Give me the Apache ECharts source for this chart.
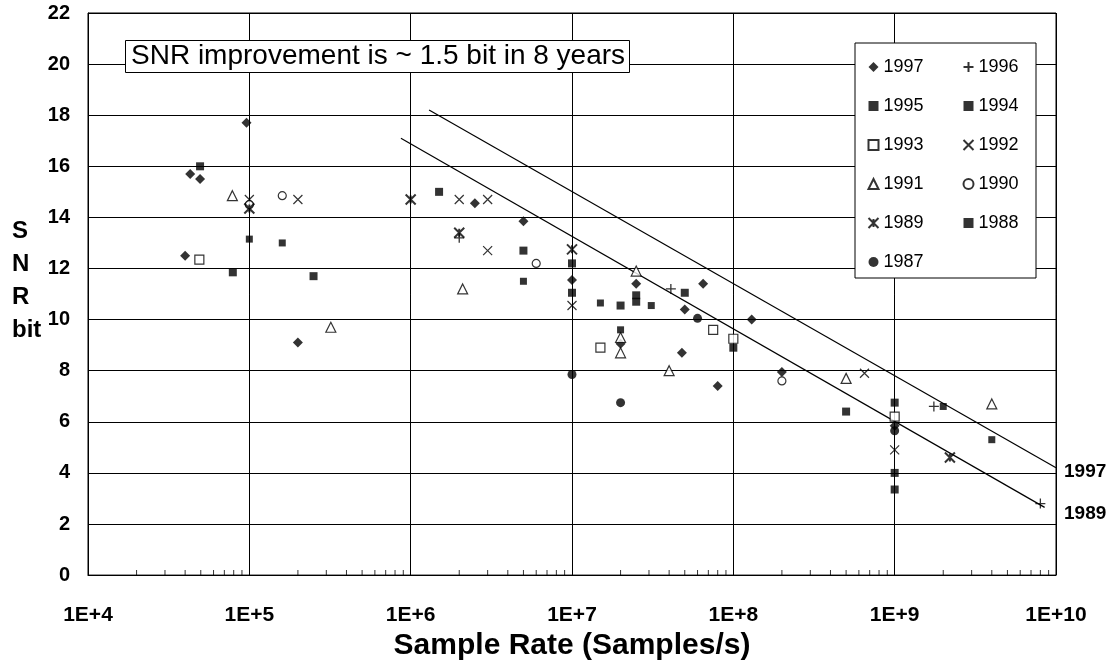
<!DOCTYPE html>
<html>
<head>
<meta charset="utf-8">
<script src="https://cdn.jsdelivr.net/npm/echarts@6/dist/echarts.min.js"></script>
<style>
html,body{margin:0;padding:0;background:#fff;}
#main{width:1111px;height:666px;}
</style>
</head>
<body>
<div id="main"></div>
<script>
// ---- data: [sample rate, SNR bits] ----
const s1997 = [[9.6e4,17.7],[4.3e4,15.7],[4.95e4,15.5],[4.0e4,12.5],[2.0e5,9.1],[2.5e6,14.55],[5e6,13.85],[1e7,11.55],[2.5e7,11.4],[2e7,9.05],[5e7,10.4],[6.5e7,11.4],[4.8e7,8.7],[8e7,7.4],[1.3e8,10.0],[2e8,7.95],[1e9,5.85]];
const s1996 = [[2e6,13.2],[4.1e7,11.2],[1.75e9,6.6],[8e9,2.8]];
const s1995 = [[4.95e4,16.0],[1.5e6,15.0],[5e6,12.7],[1e7,12.2],[2.5e7,10.95],[5e7,11.05],[1e8,8.9],[1e9,6.75]];
const s1994 = [[1e5,13.15],[1.6e5,13.0],[5e6,11.5],[1.5e7,10.65],[2e7,9.6],[3.1e7,10.55],[2e9,6.6],[4e9,5.3]];
const s1993 = [[4.9e4,12.35],[1.5e7,8.9],[7.5e7,9.6],[1e8,9.25],[1e9,6.2]];
const s1992 = [[1e5,14.7],[2e5,14.7],[2e6,14.7],[3e6,14.7],[3e6,12.7],[1e7,10.55],[6.5e8,7.9],[1e9,4.9]];
const s1991 = [[7.85e4,14.85],[3.2e5,9.7],[2.1e6,11.2],[2.5e7,11.9],[2e7,9.3],[2e7,8.7],[4e7,8.0],[5e8,7.7],[4e9,6.7]];
const s1990 = [[1e5,14.5],[1.6e5,14.85],[6e6,12.2],[2e8,7.6]];
const s1989 = [[1e5,14.35],[1e6,14.7],[2e6,13.4],[1e7,12.75],[2.2e9,4.6]];
const s1988 = [[7.9e4,11.85],[2.5e5,11.7],[1e7,11.05],[2e7,10.55],[2.5e7,10.7],[5e8,6.4],[1e9,4.0],[1e9,3.35]];
const s1987 = [[1e7,7.85],[2e7,6.75],[6e7,10.05],[1e9,5.65]];
const trend1997 = [[1.3e6,18.2],[1e10,4.2]];
const trend1989 = [[8.7e5,17.1],[8.5e9,2.65]];
const yTicks = {min:0, max:22, interval:2};
const xTicks = {min:1e4, max:1e10};
const xDecades = [1e4,1e5,1e6,1e7,1e8,1e9];
const minorMultipliers = [2,3,4,5,6,7,8,9];
const annotation = 'SNR improvement is ~ 1.5 bit in 8 years';
const xTitle = 'Sample Rate (Samples/s)';
const yTitle = 'S\nN\nR\nbit';
const trendLabels = [['1997',4.06],['1989',2.42]];

const FONT = '"Liberation Sans", Arial, sans-serif';
const filled = {color:'#000'};
const hollow = {color:'#fff', borderColor:'#000', borderWidth:1.2};
const stroke = w => ({color:'none', borderColor:'#000', borderWidth:w});

function sc(name, data, symbol, size, itemStyle){
  return {name, type:'scatter', data, symbol, symbolSize:size, itemStyle, z:5,
          emphasis:{disabled:true}};
}
// minor tick positions on the log axis (2..9 within each decade), drawn at y = 0
const minorTicks = [];
xDecades.forEach(d => minorMultipliers.forEach(m => minorTicks.push([d*m, yTicks.min])));

const series = [
  sc('1997', s1997, 'diamond', 10, filled),
  sc('1996', s1996, 'path://M0,5L10,5M5,0L5,10', 10, stroke(1.3)),
  sc('1995', s1995, 'rect', 8, filled),
  sc('1994', s1994, 'rect', 7, filled),
  sc('1993', s1993, 'rect', 9, hollow),
  sc('1992', s1992, 'path://M0,0L10,10M10,0L0,10', 9, stroke(1.2)),
  sc('1991', s1991, 'triangle', 10, hollow),
  sc('1990', s1990, 'circle', 8, hollow),
  sc('1989', s1989, 'path://M0,0L10,10M10,0L0,10M5,1L5,9', 10, stroke(2)),
  sc('1988', s1988, 'rect', 8, filled),
  sc('1987', s1987, 'circle', 9, filled),
  {name:'t1997', type:'line', data:trend1997, showSymbol:false, silent:true,
   lineStyle:{color:'#000', width:1.2}, z:3},
  {name:'t1989', type:'line', data:trend1989, showSymbol:false, silent:true,
   lineStyle:{color:'#000', width:1.2}, z:3},
  {name:'minorTicks', type:'scatter', data:minorTicks, symbol:'rect', symbolSize:[1,5],
   symbolOffset:[0,-2.5], silent:true, itemStyle:{color:'#000'}, z:4, clip:false}
];

const legendCommon = {
  orient:'vertical', padding:0, itemGap:21, itemWidth:10, itemHeight:10,
  textStyle:{fontFamily:FONT, fontSize:18, color:'#000', lineHeight:18},
  selectedMode:false, z:8
};

const chart = echarts.init(document.getElementById('main'));
chart.setOption({
  animation:false,
  backgroundColor:'#fff',
  title:{text:annotation, left:125, top:40, padding:[1,5,1,6],
    borderColor:'#000', borderWidth:1, backgroundColor:'#fff',
    textStyle:{fontFamily:FONT, fontSize:28, fontWeight:'normal', color:'#000', lineHeight:31}},
  grid:{left:88, right:55, top:13, bottom:89, show:true, borderColor:'#000', borderWidth:1},
  legend:[
    Object.assign({left:866, top:58, data:['1997','1995','1993','1991','1989','1987']}, legendCommon),
    Object.assign({left:961, top:58, data:['1996','1994','1992','1990','1988']}, legendCommon)
  ],
  xAxis:{type:'log', logBase:10, min:xTicks.min, max:xTicks.max,
    name:xTitle, nameLocation:'middle', nameGap:55,
    nameTextStyle:{fontFamily:FONT, fontSize:30, fontWeight:'bold', color:'#000'},
    axisLine:{lineStyle:{color:'#000', width:1}},
    axisTick:{show:false},
    splitLine:{show:true, lineStyle:{color:'#000', width:1}},
    axisLabel:{margin:30, fontFamily:FONT, fontSize:21, fontWeight:'bold', color:'#000',
      formatter:v => '1E+' + Math.round(Math.log10(v))}},
  yAxis:{type:'value', min:yTicks.min, max:yTicks.max, interval:yTicks.interval,
    axisLine:{show:true, lineStyle:{color:'#000', width:1}},
    axisTick:{show:false},
    splitLine:{show:true, lineStyle:{color:'#000', width:1}},
    axisLabel:{margin:18, padding:[10,0,0,0], fontFamily:FONT, fontSize:20, fontWeight:'bold', color:'#000'}},
  series
});

// legend frame & texts outside the plot
const graphics = [
  {type:'rect', shape:{x:855, y:43, width:181, height:235}, z:7,
   style:{fill:'#fff', stroke:'#000', lineWidth:1}},
  {type:'text', left:12, top:215, z:10,
   style:{text:yTitle, font:'bold 24px ' + FONT, fill:'#000', lineHeight:33}}
];
trendLabels.forEach(([t, v]) => {
  const py = chart.convertToPixel({yAxisIndex:0}, v);
  graphics.push({type:'text', x:1064, y:py, z:10,
    style:{text:t, font:'bold 19px ' + FONT, fill:'#000', textVerticalAlign:'middle'}});
});
chart.setOption({graphic:graphics});
</script>
</body>
</html>
